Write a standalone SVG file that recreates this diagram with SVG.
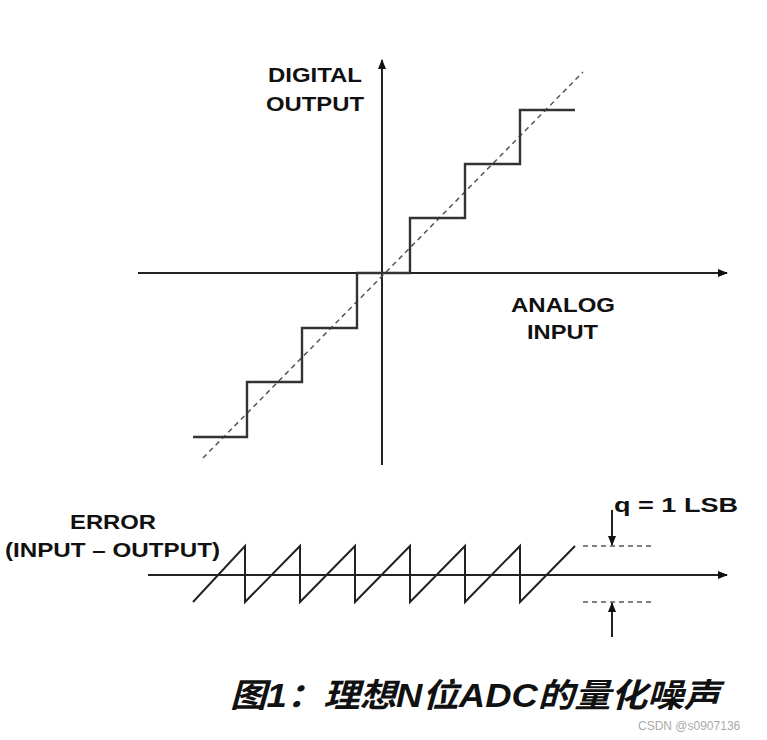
<svg xmlns="http://www.w3.org/2000/svg" width="767" height="740" viewBox="0 0 767 740">
<style>
.t{font-family:"Liberation Sans",Arial,sans-serif;font-weight:bold;font-size:21px;fill:#111}
.ln{stroke:#222;stroke-width:2;fill:none}
.st{stroke:#333;stroke-width:2.4;fill:none}
.dash{stroke:#555;stroke-width:1.5;stroke-dasharray:5,4;fill:none}
</style>
<defs><marker id="ah" markerWidth="10" markerHeight="8" refX="9" refY="4" orient="auto" markerUnits="userSpaceOnUse"><path d="M0,0 L10,4 L0,8 z" fill="#111"/></marker></defs>
<rect width="767" height="740" fill="#fff"/>
<g id="connectors">
<line class="ln" x1="382" y1="465" x2="382" y2="60" marker-end="url(#ah)"/>
<line class="ln" x1="138" y1="273" x2="727" y2="273" marker-end="url(#ah)"/>
<line class="dash" x1="203" y1="458" x2="583" y2="72"/>
<path class="st" d="M193,437 H247 V382 H302 V328 H357 V273 H410 V218 H465 V164 H520 V110 H575"/>
<line class="ln" x1="148" y1="575" x2="727" y2="575" marker-end="url(#ah)"/>
<path class="ln" stroke-width="1.6" d="M193,602 L245,546 V602 L300,546 V602 L355,546 V602 L410,546 V602 L465,546 V602 L520,546 V602 L575,546"/>
<line class="dash" x1="583" y1="546" x2="655" y2="546"/>
<line class="dash" x1="583" y1="602" x2="655" y2="602"/>
<line class="ln" x1="612" y1="510" x2="612" y2="545" marker-end="url(#ah)"/>
<line class="ln" x1="612" y1="637" x2="612" y2="603" marker-end="url(#ah)"/>
</g>
<g id="ylabel"><text class="t" x="268" y="82" textLength="94" lengthAdjust="spacingAndGlyphs">DIGITAL</text><text class="t" x="266" y="111" textLength="98" lengthAdjust="spacingAndGlyphs">OUTPUT</text></g>
<g id="xlabel"><text class="t" x="511" y="312" textLength="104" lengthAdjust="spacingAndGlyphs">ANALOG</text><text class="t" x="527" y="339" textLength="71" lengthAdjust="spacingAndGlyphs">INPUT</text></g>
<g id="errlabel"><text class="t" x="70" y="529" textLength="86" lengthAdjust="spacingAndGlyphs">ERROR</text><text class="t" x="5" y="557" textLength="215" lengthAdjust="spacingAndGlyphs">(INPUT – OUTPUT)</text></g>
<g id="qlabel"><text class="t" x="614" y="512" textLength="124" lengthAdjust="spacingAndGlyphs">q = 1 LSB</text></g>
<g id="caption"><text x="230" y="707" textLength="490" lengthAdjust="spacingAndGlyphs" style="font-family:'Liberation Sans','Noto Sans CJK SC',sans-serif;font-weight:bold;font-style:italic;font-size:33px;fill:#111">图1：理想N位ADC的量化噪声</text></g>
<text x="638" y="730" style="font-family:'Liberation Sans',sans-serif;font-size:12px;fill:#aaa">CSDN @s0907136</text>
</svg>
